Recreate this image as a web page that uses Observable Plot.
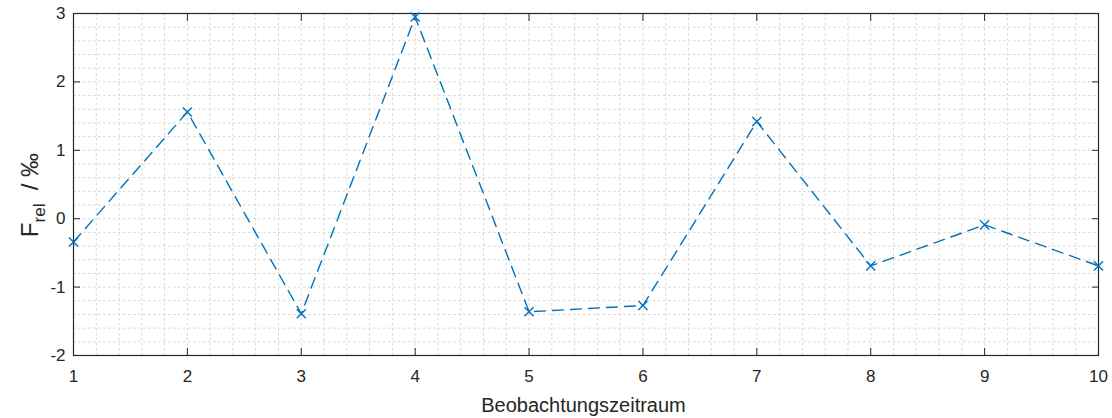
<!DOCTYPE html>
<html>
<head>
<meta charset="utf-8">
<script src="https://cdn.jsdelivr.net/npm/d3@7"></script>
<script src="https://cdn.jsdelivr.net/npm/@observablehq/plot@0.6"></script>
<style>
  html, body { margin: 0; padding: 0; background: #fff; }
  #chart svg { display: block; }
</style>
</head>
<body>
<div id="chart"></div>
<script>
// Observation periods and the relative deviation measured in each (per mille)
const periods = [1, 2, 3, 4, 5, 6, 7, 8, 9, 10];
const frel = [-0.34, 1.56, -1.39, 2.95, -1.36, -1.27, 1.42, -0.69, -0.09, -0.69];

const xTicks = [1, 2, 3, 4, 5, 6, 7, 8, 9, 10];
const yTicks = [-2, -1, 0, 1, 2, 3];

const data = periods.map((p, i) => ({period: p, value: frel[i]}));

// minor grid every 0.2 units on both axes
const xGrid = d3.range(10, 100 + 1, 2).map(v => v / 10);
const yGrid = d3.range(-20, 30 + 1, 2).map(v => v / 10);

const blue = "#0072BD";
const axisColor = "#262626";
const gridColor = "#d6d6d6";
const font = "Liberation Sans, Arial, Helvetica, sans-serif";
const plain = d => String(d);

const W = 1112, H = 418;
const margin = {left: 73, right: 14, top: 13, bottom: 63};

const chart = Plot.plot({
  width: W,
  height: H,
  marginLeft: margin.left,
  marginRight: margin.right,
  marginTop: margin.top,
  marginBottom: margin.bottom,
  style: {fontFamily: font, fontSize: "17px", color: axisColor, background: "#fff"},
  x: {domain: [1, 10], label: null},
  y: {domain: [-2, 3], label: null},
  marks: [
    Plot.ruleX(xGrid, {stroke: gridColor, strokeDasharray: "2.5,2.5", strokeWidth: 1}),
    Plot.ruleY(yGrid, {stroke: gridColor, strokeDasharray: "2.5,2.5", strokeWidth: 1}),
    Plot.frame({stroke: axisColor, strokeWidth: 1.2}),
    Plot.axisX({anchor: "bottom", ticks: xTicks, tickSize: -7, tickPadding: 21, tickFormat: plain, stroke: axisColor, fill: axisColor, fontSize: 17, label: null}),
    Plot.axisX({anchor: "top", ticks: xTicks, tickSize: -7, tickFormat: () => "", stroke: axisColor, label: null}),
    Plot.axisY({anchor: "left", ticks: yTicks, tickSize: -7, tickPadding: 15, tickFormat: plain, stroke: axisColor, fill: axisColor, fontSize: 17, label: null}),
    Plot.axisY({anchor: "right", ticks: yTicks, tickSize: -7, tickFormat: () => "", stroke: axisColor, label: null}),
    Plot.line(data, {x: "period", y: "value", stroke: blue, strokeWidth: 1.4, strokeDasharray: "11,7"}),
    Plot.dot(data, {x: "period", y: "value", symbol: "times", r: 4.2, stroke: blue, strokeWidth: 1.4})
  ]
});

document.getElementById("chart").appendChild(chart);

// axis titles: x label below, y label with a subscript
const svg = d3.select(chart);
const plotLeft = margin.left, plotRight = W - margin.right;

svg.append("text")
  .attr("x", (plotLeft + plotRight) / 2 - 2)
  .attr("y", 412)
  .attr("text-anchor", "middle")
  .attr("fill", axisColor)
  .style("font-family", font)
  .style("font-size", "20px")
  .text("Beobachtungszeitraum");

const yl = svg.append("text")
  .attr("transform", "translate(38,195) rotate(-90)")
  .attr("text-anchor", "middle")
  .attr("fill", axisColor)
  .style("font-family", font)
  .style("font-size", "24px")
  .attr("xml:space", "preserve")
  .style("white-space", "pre");
yl.append("tspan").text("F");
yl.append("tspan").attr("dy", 7).style("font-size", "17px").text("rel");
yl.append("tspan").attr("dy", -7).text("  / ‰");
</script>
</body>
</html>
